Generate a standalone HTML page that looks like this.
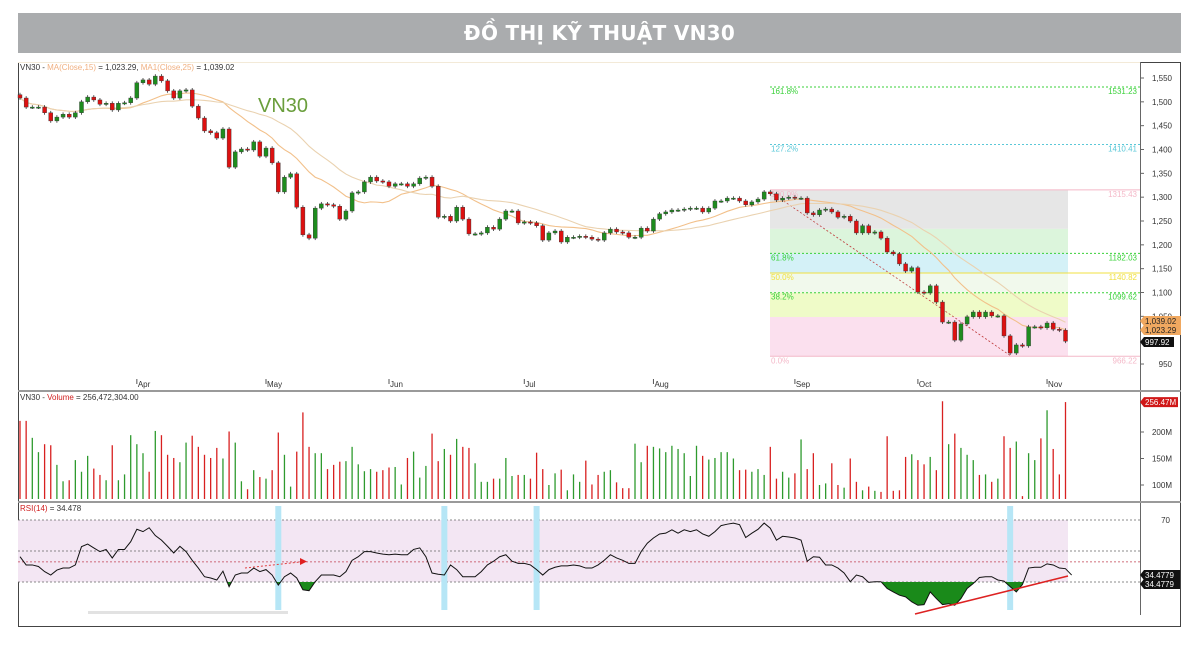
<!DOCTYPE html>
<html><head><meta charset="utf-8">
<style>
body{margin:0;background:#fff;width:1200px;height:645px;overflow:hidden;font-family:"Liberation Sans","DejaVu Sans",sans-serif}
#title{position:absolute;left:18px;top:13px;width:1163px;height:40px;background:#aaacae;color:#fff;font-weight:bold;font-size:20px;line-height:40px;text-align:center;font-family:"DejaVu Sans","Liberation Sans",sans-serif;letter-spacing:0.3px}
svg{position:absolute;left:0;top:0}
</style></head><body>
<div id="title">ĐỒ THỊ KỸ THUẬT VN30</div>
<svg id="c" width="1200" height="645"></svg>
<script>
const closes=[1508,1489,1489,1489,1477,1460,1468,1474,1468,1477,1500,1510,1504,1495,1497,1483,1497,1498,1508,1540,1546,1537,1554,1544,1523,1508,1523,1525,1491,1466,1439,1435,1424,1443,1363,1395,1401,1399,1416,1386,1403,1372,1311,1342,1349,1279,1221,1214,1277,1286,1284,1281,1254,1271,1309,1311,1332,1342,1334,1332,1323,1328,1328,1323,1328,1340,1342,1323,1258,1260,1250,1279,1254,1223,1223,1225,1237,1233,1254,1271,1271,1246,1248,1246,1240,1210,1225,1229,1206,1216,1216,1218,1216,1212,1210,1225,1233,1227,1225,1216,1216,1235,1229,1254,1265,1269,1273,1273,1275,1277,1277,1269,1277,1292,1292,1298,1298,1292,1284,1290,1296,1311,1307,1294,1298,1300,1298,1298,1267,1263,1273,1275,1269,1258,1260,1250,1225,1240,1225,1227,1214,1185,1181,1160,1145,1152,1101,1099,1114,1080,1038,1038,1000,1034,1049,1059,1049,1059,1051,1051,1009,973,990,988,1028,1028,1026,1036,1023,1021,997.92];
const volumes=[221,221,189,162,177,175,138,107,109,147,125,155,131,119,109,175,109,120,194,177,160,125,202,194,157,151,143,180,193,172,157,151,170,150,201,180,107,92,128,115,112,128,199,157,97,163,237,172,160,160,130,138,144,145,172,139,126,130,125,128,133,134,101,151,163,114,136,197,145,168,157,187,172,170,141,106,106,112,112,151,117,119,119,112,161,130,100,122,129,90,120,106,146,101,119,125,128,105,94,94,178,143,174,172,169,162,174,168,160,117,174,155,148,151,162,162,150,128,129,125,130,119,172,112,125,114,122,186,130,160,100,103,141,100,95,150,106,90,97,89,87,192,89,90,153,158,147,139,153,128,258,177,197,170,157,147,119,120,106,112,192,170,182,79,160,147,188,241,168,120,256.47];
const rsi=[46.3,41,41,40,36.7,34.5,37.7,39,39,41,52.8,54.5,52,49.6,51,45.5,51,51,56,64,62.5,65,60,57,53,48.7,53,49.6,44,39,33.4,32.6,31.3,37,27,34.5,35.8,35.8,39,36.7,38,34.5,28,33.4,35.8,32.6,25,24.4,30.2,34.5,34.5,34.5,33.4,36.7,44,46.3,49.6,49.6,48.7,48,47.6,48,47.6,47.6,51,52,46.3,35.8,35,34.5,41,38,33.4,33.4,33.4,36.7,41,43.4,46.3,47.6,43.4,42,42,41,38,34.5,38,39.5,40.4,40.4,41,40.4,39,39,41,44,47.6,45.5,44,42,42,49.6,55,58.4,61,61.5,63.7,61.5,63.7,62.5,63.7,61,59.5,62.5,66.4,67.3,68,67,58.7,61.5,64,68,64.7,57,59.5,59,58.4,57,43.4,46.3,46,41,41,39,35.8,30.2,34.5,33.4,29.8,30.2,30.2,25.8,23.6,21.5,20.4,17.2,15,15.4,23.6,19.3,15.4,16,15,19.3,25.8,29,32.9,33.4,33.4,31.3,30.6,27,23.6,28.4,39,39.5,39.5,41.7,41,39,38.6,34.48];
const priceTicks=[1550,1500,1450,1400,1350,1300,1250,1200,1150,1100,1050,950];
const volTicks=[200,150,100];
const monthLabels=["Apr","May","Jun","Jul","Aug","Sep","Oct","Nov"];
const monthBars=[19,40,60,82,103,126,146,167];
const fibLevels=[1531.23,1410.41,1315.43,1182.03,1140.82,1099.62,966.22];
const fibLabels=["161.8%","127.2%","100.0%","61.8%","50.0%","38.2%","0.0%"];
const fibBands=[1315.43,1233.5,1182.03,1140.82,1099.62,1048.6,966.22];
const rsiHighlights=[42,69,84,161];

const NS="http://www.w3.org/2000/svg",svg=document.getElementById('c');
function el(t,a,p){const e=document.createElementNS(NS,t);for(const k in a)e.setAttribute(k,a[k]);(p||svg).appendChild(e);return e;}
const X0=20,DX=6.15;
const bx=i=>X0+i*DX;
const py=p=>78+(1550-p)*0.4767;
const vy=v=>485-(v-100)*0.53;
const ry=v=>582-(v-30)*1.55;
const f2=n=>n.toLocaleString('en-US',{minimumFractionDigits:2,maximumFractionDigits:2});

let r=el('rect',{x:18.5,y:62.5,width:1162,height:564,fill:'none',stroke:'#444','stroke-width':1});

el('line',{x1:18,y1:62.5,x2:1140,y2:62.5,stroke:'#f3ead8'});
let ax=el('line',{x1:1140.5,y1:62,x2:1140.5,y2:615,stroke:'#666'});

el('rect',{x:18,y:390,width:1163,height:2,fill:'#9a9a9a'});
el('rect',{x:18,y:501,width:1163,height:2,fill:'#9a9a9a'});

const bandCols=['#e6e6e6','#dcf5dc','#d4f1f7','#f1f9ec','#effbc8','#fbe0ee'];
for(let k=0;k<bandCols.length;k++){
 const b=el('rect',{x:770,y:py(fibBands[k]),width:298,height:py(fibBands[k+1])-py(fibBands[k]),fill:bandCols[k]});
 
}
const fibCols=['#3ad13a','#5bc8d8','#f4b8c8','#3ad13a','#f0e040','#3ad13a','#f4b8c8'];
const fibDash=['2,2','2,2','','2,2','','2,2',''];
fibLevels.forEach((v,k)=>{
 const y=py(v);
 const l=el('line',{x1:770,y1:y,x2:1140,y2:y,stroke:fibCols[k],'stroke-width':1,'stroke-dasharray':fibDash[k]});
 
 const t1=el('text',{x:771,y:y+7,'font-size':8,fill:fibCols[k]});t1.textContent=fibLabels[k];
 
 const t2=el('text',{x:1137,y:y+7,'font-size':8,fill:fibCols[k],'text-anchor':'end'});t2.textContent=v.toFixed(2);
 
});
el('line',{x1:bx(122),y1:py(1311),x2:bx(161),y2:py(968),stroke:'#c04040','stroke-dasharray':'2,2','stroke-width':0.8});

function ma(n){return closes.map((c,i)=>{const s=Math.max(0,i-n+1);let t=0;for(let j=s;j<=i;j++)t+=closes[j];return t/(i-s+1);});}
[[15,'#f2c08a'],[25,'#ead2b0']].forEach(([n,col])=>{
 const m=ma(n);
 const p=el('polyline',{points:m.map((v,i)=>bx(i)+','+py(v)).join(' '),fill:'none',stroke:col,'stroke-width':1.1});
 
});
closes.forEach((c,i)=>{
 const o=i?closes[i-1]:1515;const up=c>=o;const col=up?'#1e8c1e':'#dd1111';
 const x=bx(i),hi=Math.max(o,c)+4,lo=Math.min(o,c)-4;
 const g=el('g',{});
 
 el('line',{x1:x,y1:py(hi),x2:x,y2:py(lo),stroke:'#333','stroke-width':0.8},g);
 const top=py(Math.max(o,c)),h=Math.max(1.2,py(Math.min(o,c))-top);
 el('rect',{x:x-2,y:top,width:4,height:h,fill:col,stroke:'#333','stroke-width':0.4},g);
 const vb=el('line',{x1:x,y1:499,x2:x,y2:vy(volumes[i]!==undefined?volumes[i]:80),stroke:up?'#2e9a2e':'#d82020','stroke-width':1.3});
 
});
el('text',{x:20,y:70,'font-size':8,fill:'#333'}).innerHTML='VN30 - <tspan fill="#f0b080">MA(Close,15)</tspan> = 1,023.29, <tspan fill="#f0b080">MA1(Close,25)</tspan> = 1,039.02';
let vt=el('text',{x:258,y:112,'font-size':20,fill:'#6a9e3c'});vt.textContent='VN30';

priceTicks.forEach(v=>{const y=py(v);el('line',{x1:1140,y1:y,x2:1144,y2:y,stroke:'#666'});
 const t=el('text',{x:1172,y:y+3,'font-size':8,fill:'#333','text-anchor':'end'});t.textContent=v.toLocaleString('en-US');
 });
function tag(x,y,w,bg,fg,txt,name){const g=el('g',{});
 el('path',{d:`M${x} ${y} l4 -5 h${w} v10 h-${w} z`,fill:bg},g);
 const t=el('text',{x:x+5,y:y+3,'font-size':8,fill:fg},g);t.textContent=txt;}
tag(1140,321,37,'#f0a860','#222','1,039.02','ma25-value-tag');
tag(1140,330,37,'#f0a860','#222','1,023.29','ma15-value-tag');
tag(1140,342,30,'#111','#fff',f2(closes[closes.length-1]),'last-price-tag');
monthLabels.forEach((m,k)=>{const x=bx(monthBars[k]);el('line',{x1:x,y1:379,x2:x,y2:384,stroke:'#555'});
 const t=el('text',{x:x+1,y:387,'font-size':8,fill:'#333'});t.textContent=m;
 });
el('text',{x:20,y:400,'font-size':8,fill:'#333'}).innerHTML='VN30 - <tspan fill="#d02020">Volume</tspan> = 256,472,304.00';
volTicks.forEach(v=>{const y=vy(v);el('line',{x1:1140,y1:y,x2:1144,y2:y,stroke:'#666'});
 const t=el('text',{x:1172,y:y+3,'font-size':8,fill:'#333','text-anchor':'end'});t.textContent=v+'M';
 });
tag(1140,vy(volumes[volumes.length-1]),34,'#d01818','#fff','256.47M','last-volume-tag');
el('rect',{x:18,y:ry(70),width:1050,height:ry(30)-ry(70),fill:'#f3e6f3'});
[[70,'#666'],[50,'#666'],[30,'#666']].forEach(([v,c])=>el('line',{x1:18,y1:ry(v),x2:1140,y2:ry(v),stroke:c,'stroke-dasharray':'2,2','stroke-width':0.8}));
el('line',{x1:18,y1:ry(43),x2:1140,y2:ry(43),stroke:'#c04050','stroke-dasharray':'2,2','stroke-width':0.8});
rsiHighlights.forEach(i=>{const h=el('rect',{x:bx(i)-3,y:506,width:6,height:104,fill:'#b6e6f6'});
 });
const defs=el('defs',{});const cp=el('clipPath',{id:'below'},defs);el('rect',{x:0,y:ry(30),width:1200,height:100},cp);
const pts=rsi.map((v,i)=>bx(i)+','+ry(v));
let fa=el('polygon',{points:pts.join(' ')+` ${bx(rsi.length-1)},${ry(30)} ${bx(0)},${ry(30)}`,fill:'#1a8a1a','clip-path':'url(#below)'});

let rl=el('polyline',{points:pts.join(' '),fill:'none',stroke:'#111','stroke-width':1});

let tl=el('line',{x1:915,y1:614,x2:1068,y2:576,stroke:'#dd2222','stroke-width':1.6});

el('line',{x1:245,y1:568,x2:300,y2:562,stroke:'#e04040','stroke-dasharray':'2,2'});
el('path',{d:'M300 558 l7 3.5 l-7 3.5 z',fill:'#e02020'});
el('text',{x:20,y:511,'font-size':8,fill:'#333'}).innerHTML='<tspan fill="#d02020">RSI(14)</tspan> = 34.478';
let t70=el('text',{x:1170,y:523,'font-size':8,fill:'#333','text-anchor':'end'});t70.textContent='70';

tag(1140,575,36,'#111','#fff','34.4779','rsi-value-tag');
tag(1140,584,36,'#111','#fff','34.4779','rsi-value-tag-2');
el('rect',{x:88,y:611,width:200,height:3,fill:'#e2e2e2'});
</script>
</body></html>
